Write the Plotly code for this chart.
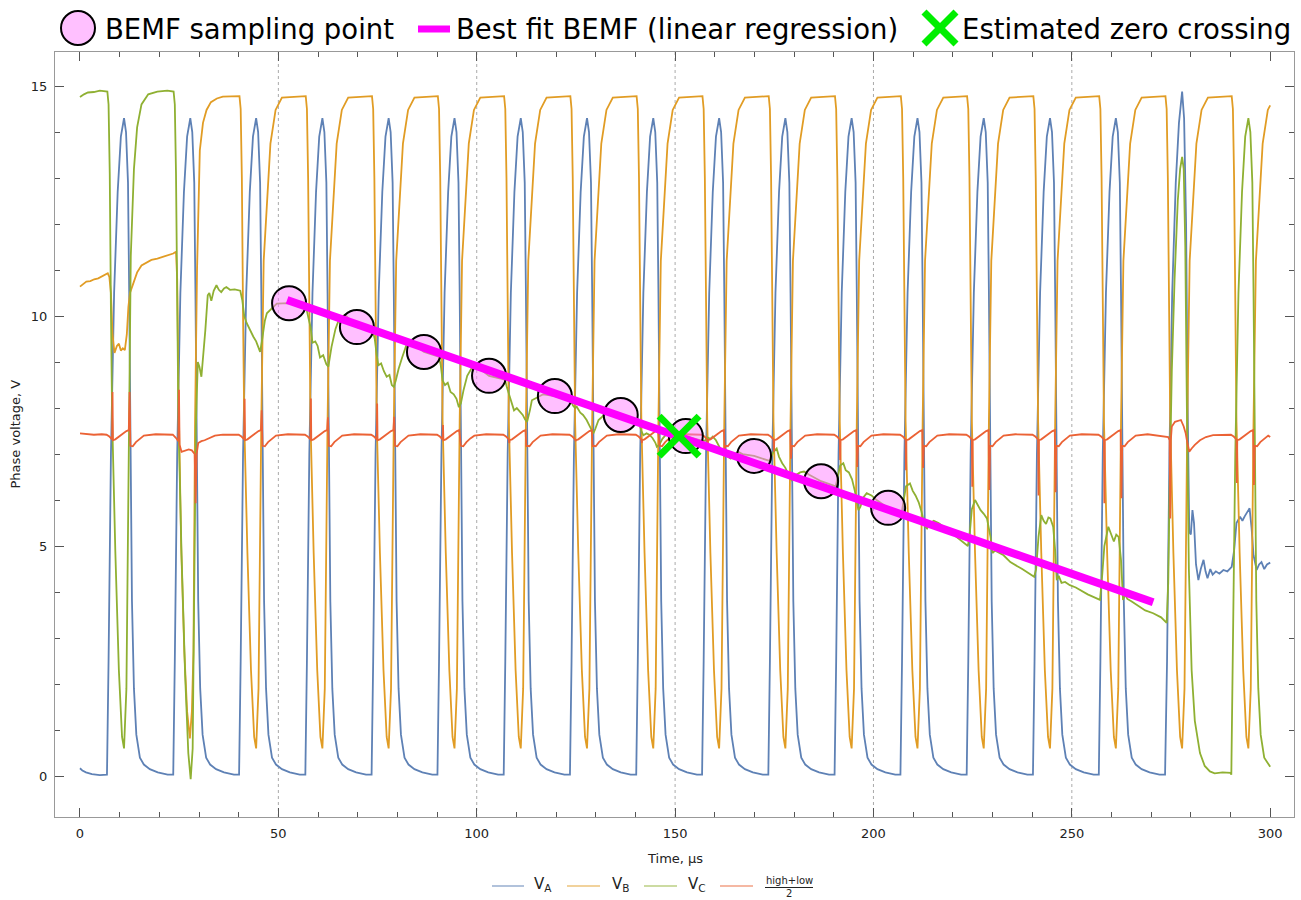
import plotly.graph_objects as go

# ---------------- data ----------------
# centre time (µs) of every PWM switching pulse
pulse_t = [11.1, 27.8, 44.4, 61.1, 77.8, 94.4, 111.1, 127.8, 144.5, 161.1,
           177.8, 194.5, 211.1, 227.8, 244.5, 261.1, 277.8, 294.5]

# shape of one pulse of the low-side phase (offset from pulse centre, V)
lo_dt = [-4.3, -3.9, -3.3, -2.5, -1.6, -0.8, 0.0, 0.5, 1.0, 1.3, 1.6, 2.0, 2.5, 3.1, 4.0, 5.0, 6.5, 8.5, 11.0]
lo_v = [0.03, 2.5, 7.0, 10.5, 12.7, 13.9, 14.3, 14.0, 12.9, 10.5, 7.0, 3.8, 1.9, 0.9, 0.4, 0.25, 0.15, 0.08, 0.03]

# shape of one dip of the high-side phase (offset from pulse centre, V)
hi_dt = [-4.2, -3.9, -3.6, -3.3, -3.0, -2.2, -1.3, -0.5, 0.0, 0.6, 1.0, 1.3, 1.9, 2.8, 3.6, 4.9, 6.5]
hi_v = [14.78, 14.5, 13.0, 10.0, 7.7, 4.85, 2.3, 0.85, 0.6, 1.9, 5.6, 7.7, 11.2, 12.7, 13.75, 14.48, 14.75]

# shape of (high+low)/2 around one pulse; None = spike value from the lists below
mid_tpl_dt = [-4.4, -3.7, -3.2, -3.0, -2.9, -2.8, -2.2, -1.3, -0.3, 0.6, 1.2, 1.4, 1.6, 2.2, 3.0, 4.0, 5.0, 8.0]
mid_tpl_v = [7.42, 7.38, 7.34, 7.32, None, 7.30, 7.32, 7.38, 7.45, 7.50, 7.52, None, 7.18, 7.17, 7.26, 7.34, 7.40, 7.43]
mid_spike_a = [8.35, None, 8.2, 8.21, 8.1, 7.63, 7.24, 7.28, 7.24, 7.16, 7.05, 6.87, 6.65, 6.29, 6.1, 5.93, None, 6.37]
mid_spike_b = [8.35, None, 7.95, 7.8, 7.81, 7.4, 7.16, 7.16, 7.2, 7.1, 6.9, 6.72, 6.7, 6.22, 6.17, 6.04, None, 6.33]

# V_A : low side for pulses 0..15, then floating
va_pulses = list(range(0, 16))
va_t = [0, 0.6, 1.5, 3, 5, 6.5,
        273.5, 274.0, 274.6, 275.3, 276.2, 277.0, 277.8, 278.3, 278.8, 279.2, 279.6, 280.0,
        280.4, 280.8, 281.3, 281.9, 282.5, 283.2, 283.7, 284.2, 284.9, 285.5, 286.3, 287.2,
        288.2, 289.2, 290.3, 290.9, 291.5, 292.4, 293.0, 293.6, 294.3, 294.8, 295.3, 295.8,
        296.6, 297.2, 297.8, 298.5, 299.2, 300]
va_v = [0.17, 0.12, 0.08, 0.04, 0.02, 0.03,
        0.03, 2.5, 7.0, 10.5, 12.9, 14.2, 14.88, 14.3, 12.0, 8.0, 5.3, 5.25,
        5.78, 5.5, 4.6, 4.26, 4.5, 4.7, 4.45, 4.3, 4.5, 4.38, 4.45, 4.4,
        4.48, 4.45, 4.55, 4.9, 5.5, 5.64, 5.55, 5.65, 5.75, 5.82, 5.4, 4.8,
        4.48, 4.6, 4.65, 4.5, 4.6, 4.64]

# V_B : floating, commutation, then high side for pulses 2..17
vb_pulses = list(range(2, 18))
vb_t = [0, 0.8, 1.6, 2.6, 3.6, 4.6, 5.6, 6.5, 7.0, 7.4, 7.8, 8.2, 8.7, 9.3, 9.8, 10.3,
        10.8, 11.3, 11.8, 12.2, 12.6, 13.2, 13.8, 14.4, 15.5, 16.5, 18.0, 19.5, 20.5,
        22.3, 23.5, 24.2, 24.5, 24.8, 25.5, 26.3, 27.0, 27.7, 28.2, 28.6, 29.0, 29.5,
        30.2, 31.0, 31.9, 33.0, 34.5, 36.0, 300]
vb_v = [10.64, 10.7, 10.75, 10.76, 10.8, 10.82, 10.87, 10.9, 10.93, 10.85, 10.5, 9.6,
        9.2, 9.35, 9.4, 9.25, 9.3, 9.26, 9.6, 10.2, 10.5, 10.65, 10.8, 10.95, 11.1, 11.15,
        11.22, 11.25, 11.28, 11.33, 11.36, 11.4, 10.8, 8.5, 5.0, 2.7, 1.4, 0.82, 1.4, 2.7,
        7.7, 11.0, 13.6, 14.2, 14.48, 14.65, 14.73, 14.77, 14.58]

# V_C : high side, commutation, floating (BEMF), then low side
vc_pulses = [17]
vc_t = [0, 1.0, 2.0, 3.5, 5.0, 6.5, 6.9, 7.2, 7.5, 7.8, 8.1, 8.9, 9.8, 10.6, 11.1, 11.7,
        12.1, 12.4, 12.8, 13.6, 14.4, 15.5, 17.2, 19.5, 22.0, 23.6, 23.9, 24.2, 24.5, 24.8,
        25.6, 26.5, 27.3, 27.9, 28.4, 28.8, 29.2, 29.7, 30.1, 30.6, 31.0, 31.6, 32.2, 32.6,
        33.1, 33.7, 34.4, 35.0, 35.6, 36.3, 36.9, 37.8, 39.0, 40.4,
        40.9, 41.4, 42.0, 42.8, 43.7, 44.4, 45.0, 45.4, 45.9, 46.6, 47.1, 48.3, 49.6, 52.7, 57.1,
        57.6, 58.1, 58.6, 59.3, 59.9, 60.5, 61.3, 62.1, 62.6, 63.4, 64.4, 65.5, 66.9, 69.8, 73.8,
        74.3, 74.8, 75.2, 75.9, 76.6, 77.3, 78.0, 78.6, 79.1, 79.6, 80.3, 81.2, 82.2, 83.5, 86.7, 90.4,
        90.9, 91.4, 92.0, 92.7, 93.4, 94.2, 94.9, 95.5, 96.0, 96.7, 97.6, 98.8, 100.0, 103.1, 107.1,
        107.6, 108.1, 108.8, 109.4, 110.1, 110.9, 111.6, 112.2, 112.7, 113.4, 113.9, 115.0, 116.8, 119.7, 123.8,
        124.3, 124.8, 125.2, 126.1, 126.8, 127.7, 128.5, 129.4, 129.9, 130.7, 131.5, 132.5, 133.5, 136.3, 140.5,
        141.0, 141.5, 142.0, 142.8, 143.5, 144.3, 145.0, 145.4, 146.0, 146.8, 147.7, 148.9, 150.2, 152.7, 157.1,
        157.6, 158.1, 158.9, 159.5, 160.3, 161.1, 161.6, 162.2, 163.1, 164.0, 164.7, 165.9, 167.0, 169.9, 173.8,
        174.3, 174.8, 175.6, 176.2, 177.0, 177.8, 178.6, 179.4, 179.9, 180.6, 181.5, 182.5, 183.8, 186.8, 190.5,
        191.0, 191.6, 192.4, 193.0, 193.8, 194.6, 195.3, 196.2, 196.7, 197.4, 198.3, 199.5, 200.8, 203.7, 207.1,
        207.6, 208.2, 209.2, 209.9, 210.6, 211.4, 212.1, 213.0, 213.5, 214.3, 215.2, 216.4, 218.0, 221.0, 223.8,
        224.3, 224.8, 225.6, 226.2, 227.0, 227.8, 228.6, 229.5, 230.0, 230.7, 231.6, 232.8, 234.5, 237.5, 240.5,
        241.0, 241.6, 242.3, 242.9, 243.5, 244.1, 244.6, 245.3, 245.8, 246.2, 246.7, 247.4, 248.3, 249.5, 251.0, 254.0, 257.1,
        257.6, 258.2, 259.2, 259.9, 260.6, 261.2, 261.8, 262.4, 262.9, 263.4, 264.0, 265.0, 266.5, 268.5, 270.5, 272.5, 273.9,
        274.3, 274.7, 275.2, 275.9, 276.7, 277.3, 277.8, 278.2, 278.6, 279.0, 279.5, 280.2, 281.0, 282.3,
        283.5, 284.8, 286.0, 288.0, 290.0, 300]
vc_v = [14.76, 14.82, 14.86, 14.87, 14.9, 14.88, 14.88, 14.6, 13.1, 10.1, 7.8, 4.9, 2.3, 0.85, 0.6, 1.9,
        5.6, 7.8, 11.3, 13.2, 14.1, 14.6, 14.82, 14.88, 14.9, 14.88, 14.6, 13.1, 10.1, 7.8,
        4.8, 2.2, 0.5, -0.07, 0.6, 3.5, 7.6, 9.0, 8.9, 8.68, 9.05, 9.7, 10.45, 10.5,
        10.33, 10.55, 10.67, 10.57, 10.52, 10.6, 10.63, 10.57, 10.58, 10.55,
        10.35, 10.0, 9.85, 9.7, 9.55, 9.45, 9.3, 9.22, 9.48, 9.9, 10.06, 10.17, 10.27, 10.28, 10.15,
        9.95, 9.77, 9.42, 9.45, 9.35, 9.1, 9.15, 8.95, 8.9, 9.33, 9.72, 9.98, 10.02, 9.76, 9.68,
        9.5, 9.15, 8.93, 8.97, 8.8, 8.68, 8.72, 8.5, 8.46, 8.6, 8.85, 9.1, 9.35, 9.42, 9.22, 9.12,
        8.95, 8.6, 8.5, 8.55, 8.35, 8.3, 8.2, 8.02, 8.1, 8.4, 8.7, 8.88, 8.9, 8.70, 8.62,
        8.45, 8.3, 8.14, 7.95, 8.0, 7.92, 7.85, 7.75, 7.7, 7.95, 8.17, 8.22, 8.3, 8.26, 8.15,
        8.05, 8.0, 8.03, 7.9, 7.85, 7.74, 7.6, 7.45, 7.55, 7.74, 7.8, 7.88, 7.92, 7.85, 7.72,
        7.65, 7.5, 7.41, 7.45, 7.42, 7.35, 7.25, 7.16, 7.2, 7.33, 7.42, 7.48, 7.46, 7.39, 7.28,
        7.3, 7.36, 7.33, 7.38, 7.3, 7.16, 7.05, 6.98, 6.95, 6.9, 6.98, 7.05, 7.0, 6.96, 6.85,
        6.95, 7.05, 7.12, 6.94, 6.8, 6.7, 6.55, 6.43, 6.45, 6.55, 6.6, 6.62, 6.55, 6.41, 6.3,
        6.5, 6.75, 6.8, 6.65, 6.6, 6.45, 6.2, 5.78, 5.85, 6.05, 6.15, 6.1, 6.0, 5.83, 5.72,
        5.95, 6.3, 6.36, 6.2, 6.1, 5.95, 5.75, 5.42, 5.38, 5.5, 5.55, 5.5, 5.4, 5.2, 5.0,
        5.3, 5.8, 6.0, 5.9, 5.78, 5.7, 5.6, 5.2, 4.85, 4.9, 4.85, 4.8, 4.65, 4.5, 4.33,
        4.5, 5.2, 5.67, 5.55, 5.48, 5.62, 5.6, 5.42, 4.9, 4.26, 4.35, 4.2, 4.22, 4.15, 4.1, 3.95, 3.83,
        4.3, 5.0, 5.42, 5.25, 5.1, 5.25, 5.2, 4.7, 3.83, 3.95, 3.85, 3.8, 3.72, 3.6, 3.54, 3.45, 3.33,
        4.2, 6.5, 8.8, 10.8, 12.5, 13.2, 13.46, 13.2, 11.5, 8.0, 4.5, 2.3, 1.2, 0.5,
        0.22, 0.1, 0.06, 0.08, 0.07, 0.2]

# (high+low)/2 : irregular parts around the commutations
mid_pulses = [0] + list(range(2, 16)) + [17]
mid_t = [0, 1.5, 3.5, 5.5,
         23.4, 24.1, 24.6, 24.8, 24.95, 25.1, 25.6, 26.5, 27.4, 28.2, 28.9, 29.15, 29.4, 29.8,
         30.6, 31.4, 32.5, 34.0, 36.0,
         271.5, 273.0, 274.3, 274.65, 274.8, 274.95, 275.2, 276.0, 277.0, 277.5, 278.2, 278.7,
         279.0, 279.6, 280.2, 281.0, 282.3, 283.8, 285.6, 287.5, 300]
mid_v = [7.45, 7.44, 7.42, 7.43,
         7.42, 7.36, 7.3, 7.28, 8.4, 7.2, 7.05, 7.08, 7.1, 7.08, 7.0, 5.93, 7.0, 7.24,
         7.28, 7.3, 7.35, 7.4, 7.42,
         7.4, 7.38, 7.37, 7.3, 5.6, 7.3, 7.6, 7.7, 7.72, 7.74, 7.6, 7.45,
         7.3, 7.05, 7.12, 7.2, 7.3, 7.37, 7.41, 7.42, 7.37]

# BEMF sampling points, fitted line and zero crossing
bemf_t = [52.7, 69.8, 86.7, 103.1, 119.7, 136.3, 152.7, 169.9, 186.8, 203.7]
bemf_v = [10.28, 9.76, 9.22, 8.70, 8.26, 7.85, 7.39, 6.96, 6.41, 5.83]
fit_t = [52.2, 270.5]
fit_v = [10.35, 3.78]
zc_t = [151.0]
zc_v = [7.39]

grid_x = [50, 100, 150, 200, 250]
x_ticks = [0, 50, 100, 150, 200, 250, 300]
y_ticks = [0, 5, 10, 15]

# ---------------- assemble traces ----------------
T_END = 300.0


def build(base_t, base_v, pulses, dts, vs, spike_a=None, spike_b=None):
    pts = list(zip(base_t, base_v))
    for k in pulses:
        c = pulse_t[k]
        for d, v in zip(dts, vs):
            if v is None:
                v = spike_a[k] if d < 0 else spike_b[k]
            t = c + d
            if t < T_END:
                pts.append((t, v))
    pts.sort(key=lambda p: p[0])
    return [p[0] for p in pts], [p[1] for p in pts]


VA = build(va_t, va_v, va_pulses, lo_dt, lo_v)
VB = build(vb_t, vb_v, vb_pulses, hi_dt, hi_v)
VC = build(vc_t, vc_v, vc_pulses, lo_dt, lo_v)
MID = build(mid_t, mid_v, mid_pulses, mid_tpl_dt, mid_tpl_v, mid_spike_a, mid_spike_b)

C_A = '#5E81B5'
C_B = '#E19C24'
C_C = '#8FB032'
C_M = '#EB6235'
FONT = 'DejaVu Sans'

fig = go.Figure()
for (tt, vv), col in [(VA, C_A), (VB, C_B), (VC, C_C), (MID, C_M)]:
    fig.add_trace(go.Scatter(x=tt, y=vv, mode='lines', line=dict(color=col, width=1.8),
                             hoverinfo='skip', showlegend=False))

fig.add_trace(go.Scatter(x=bemf_t, y=bemf_v, mode='markers', showlegend=False,
                         marker=dict(size=34, color='rgba(255,128,255,0.5)',
                                     line=dict(color='black', width=2))))
fig.add_trace(go.Scatter(x=fit_t, y=fit_v, mode='lines', showlegend=False,
                         line=dict(color='#FF00FF', width=8)))
fig.add_trace(go.Scatter(x=zc_t, y=zc_v, mode='markers', showlegend=False,
                         marker=dict(symbol='x-thin', size=40, color='#00EE00',
                                     line=dict(color='#00EE00', width=7))))

# dotted grid
for gx in grid_x:
    fig.add_shape(type='line', xref='x', yref='paper', x0=gx, x1=gx, y0=0, y1=1,
                  line=dict(color='#AAAAAA', width=1, dash='dot'), layer='below')

L, R, TOP, BOT = 55, 1294, 52, 817
W, H = R - L, BOT - TOP


def px(x):
    return (x - L) / W


def py(y):
    return (BOT - y) / H


shapes = []
ann = []
# top legend
shapes.append(dict(type='circle', xref='paper', yref='paper', xsizemode='pixel', ysizemode='pixel',
                   xanchor=px(78), yanchor=py(28), x0=-17, x1=17, y0=-17, y1=17,
                   fillcolor='#FFC0FF', line=dict(color='black', width=2)))
shapes.append(dict(type='line', xref='paper', yref='paper', x0=px(418), x1=px(450), y0=py(29), y1=py(29),
                   line=dict(color='#FF00FF', width=7)))
for a, b in [(-16, 16), (16, -16)]:
    shapes.append(dict(type='line', xref='paper', yref='paper', xsizemode='pixel', ysizemode='pixel',
                       xanchor=px(940), yanchor=py(28), x0=-16, x1=16, y0=a, y1=b,
                       line=dict(color='#00EE00', width=7)))
for txt, x in [('BEMF sampling point', 103), ('Best fit BEMF (linear regression)', 454),
               ('Estimated zero crossing', 960)]:
    ann.append(dict(text=txt, xref='paper', yref='paper', x=px(x), y=py(29), xanchor='left',
                    yanchor='middle', showarrow=False, font=dict(family=FONT, size=27.5, color='black')))

# bottom legend
ly = py(886)
for (x0, x1, col, lab, tx) in [(492, 524, C_A, 'V<sub>A</sub>', 532), (567, 600, C_B, 'V<sub>B</sub>', 610),
                               (644, 677, C_C, 'V<sub>C</sub>', 686), (720, 753, C_M, None, 0)]:
    shapes.append(dict(type='line', xref='paper', yref='paper', x0=px(x0), x1=px(x1), y0=ly, y1=ly,
                       line=dict(color=col, width=1.6), opacity=0.6))
    if lab:
        ann.append(dict(text=lab, xref='paper', yref='paper', x=px(tx), y=py(885), xanchor='left',
                        yanchor='middle', showarrow=False, font=dict(family=FONT, size=15, color='#222')))
ann.append(dict(text='high+low', xref='paper', yref='paper', x=px(789), y=py(881), xanchor='center',
                yanchor='middle', showarrow=False, font=dict(family=FONT, size=10, color='#222')))
ann.append(dict(text='2', xref='paper', yref='paper', x=px(789), y=py(893.5), xanchor='center',
                yanchor='middle', showarrow=False, font=dict(family=FONT, size=10, color='#222')))
shapes.append(dict(type='line', xref='paper', yref='paper', x0=px(765), x1=px(813), y0=py(887.5), y1=py(887.5),
                   line=dict(color='#222', width=1)))

# axis titles
ann.append(dict(text='Time, µs', xref='paper', yref='paper', x=0.5, y=py(858), xanchor='center',
                yanchor='middle', showarrow=False, font=dict(family=FONT, size=13, color='#222')))
ann.append(dict(text='Phase voltage, V', xref='paper', yref='paper', x=px(15), y=0.5, xanchor='center',
                yanchor='middle', showarrow=False, textangle=-90, font=dict(family=FONT, size=13, color='#222')))

for s in shapes:
    fig.add_shape(**s)

fig.update_layout(width=1301, height=900, margin=dict(l=L, r=1301 - R, t=TOP, b=900 - BOT),
                  plot_bgcolor='white', paper_bgcolor='white', showlegend=False, annotations=ann,
                  font=dict(family=FONT))
fig.update_xaxes(range=[-6.3, 306], tickvals=x_ticks, ticks='inside', ticklen=9, tickcolor='#555',
                 mirror='allticks', showline=True, linecolor='#999999', linewidth=1, showgrid=False,
                 zeroline=False, ticklabelstandoff=4,
                 minor=dict(dtick=10, tick0=0, ticks='inside', ticklen=5, tickcolor='#555', showgrid=False),
                 tickfont=dict(family=FONT, size=13, color='#222'))
fig.update_yaxes(range=[-0.89, 15.74], tickvals=y_ticks, ticks='inside', ticklen=9, tickcolor='#555',
                 mirror='allticks', showline=True, linecolor='#999999', linewidth=1, showgrid=False,
                 zeroline=False, ticklabelstandoff=4,
                 minor=dict(dtick=1, tick0=0, ticks='inside', ticklen=5, tickcolor='#555', showgrid=False),
                 tickfont=dict(family=FONT, size=13, color='#222'))

fig.write_html('out.html')
